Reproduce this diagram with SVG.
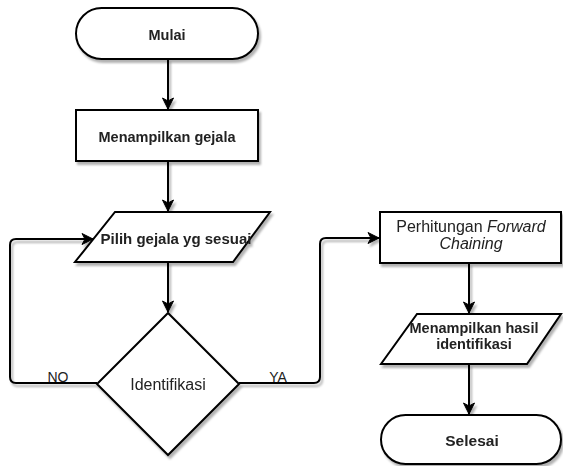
<svg xmlns="http://www.w3.org/2000/svg" width="563" height="466" viewBox="0 0 563 466">
<defs>
<filter id="sh" x="-10%" y="-10%" width="130%" height="130%">
<feDropShadow dx="2" dy="3" stdDeviation="1.2" flood-color="#000" flood-opacity="0.3"/>
</filter>
<marker id="arr" markerUnits="userSpaceOnUse" markerWidth="14" markerHeight="14" refX="12" refY="7" orient="auto">
<path d="M1,1.5 L12,7 L1,12.5 L4,7 Z" fill="#000" stroke="#000" stroke-width="1"/>
</marker>
<style>
.s{fill:#fff;stroke:#000;stroke-width:2}
.e{fill:none;stroke:#000;stroke-width:2}
text{font-family:"Liberation Sans",Arial,Helvetica,sans-serif;fill:#222;text-anchor:middle}
.b{font-weight:bold;font-size:14.5px}
.r{font-size:16px}
.l{font-size:14px}
</style>
</defs>
<g id="connectors" filter="url(#sh)">
<path class="e" d="M168,59 V109" marker-end="url(#arr)"/>
<path class="e" d="M168,161 V211" marker-end="url(#arr)"/>
<path class="e" d="M168,262 V312" marker-end="url(#arr)"/>
<path class="e" d="M97,383 H16 Q10,383 10,377 V245 Q10,239 16,239 H93" marker-end="url(#arr)"/>
<path class="e" d="M239,383 H314 Q320,383 320,377 V244 Q320,238 326,238 H379" marker-end="url(#arr)"/>
<path class="e" d="M469,263 V313" marker-end="url(#arr)"/>
<path class="e" d="M469,364 V414" marker-end="url(#arr)"/>
</g>
<g id="labels">
<text class="l" x="58" y="382">NO</text>
<text class="l" x="278" y="382">YA</text>
</g>
<g id="mulai" filter="url(#sh)">
<rect class="s" x="76" y="8" width="182" height="51" rx="25.5"/>
<text class="b" x="167" y="40">Mulai</text>
</g>
<g id="menampilkan-gejala" filter="url(#sh)">
<rect class="s" x="76" y="110" width="182" height="51"/>
<text class="b" x="167" y="142">Menampilkan gejala</text>
</g>
<g id="pilih-gejala" filter="url(#sh)">
<polygon class="s" points="115,212 270,212 233,262 75,262"/>
<text class="b" x="176" y="244" style="font-size:15px">Pilih gejala yg sesuai</text>
</g>
<g id="identifikasi" filter="url(#sh)">
<polygon class="s" points="168,313 239,384 168,455 97,384"/>
<text class="r" x="168" y="390">Identifikasi</text>
</g>
<g id="perhitungan" filter="url(#sh)">
<rect class="s" x="380" y="212" width="181" height="51"/>
<text class="r" x="471" y="232">Perhitungan <tspan font-style="italic">Forward</tspan></text>
<text class="r" x="471" y="249" font-style="italic">Chaining</text>
</g>
<g id="menampilkan-hasil" filter="url(#sh)">
<polygon class="s" points="417,314 561,314 527,364 381,364"/>
<text class="b" x="474" y="333">Menampilkan hasil</text>
<text class="b" x="474" y="349">identifikasi</text>
</g>
<g id="selesai" filter="url(#sh)">
<rect class="s" x="381" y="415" width="180" height="49" rx="24.5"/>
<text class="b" x="472" y="446" style="font-size:15.5px">Selesai</text>
</g>
</svg>
